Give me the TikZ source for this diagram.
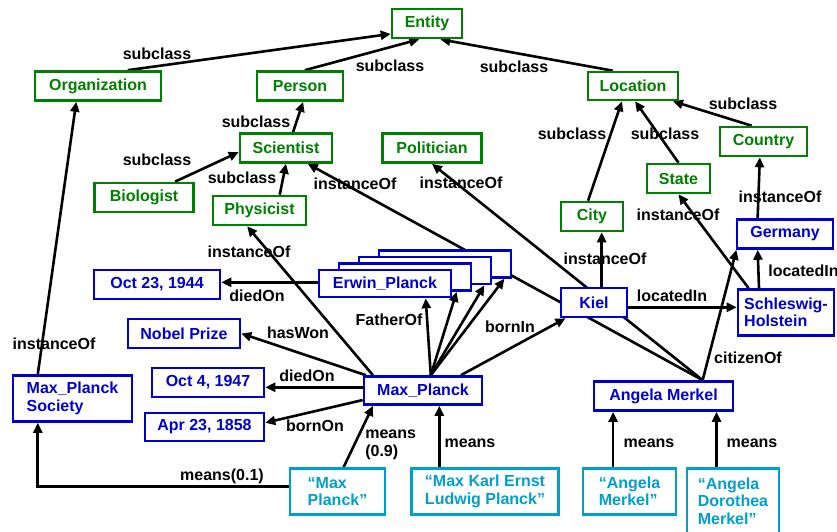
\documentclass[tikz,border=0pt]{standalone}
\usepackage{fontspec}
\setmainfont{Liberation Sans}
\usetikzlibrary{arrows.meta,backgrounds}
\definecolor{clsgreen}{RGB}{0,128,0}
\definecolor{entblue}{RGB}{0,0,204}
\definecolor{wordcyan}{RGB}{0,160,204}

\begin{document}
\begin{tikzpicture}[x=1pt,y=-1pt,
  box/.style={rectangle,draw,fill=white,line width=2.6pt,inner sep=4pt,
    font=\fontsize{16}{17.5}\selectfont\bfseries,minimum height=29pt},
  cls/.style={box,draw=clsgreen,text=clsgreen},
  ent/.style={box,draw=entblue,text=entblue},
  word/.style={box,draw=wordcyan,text=wordcyan,align=left,minimum height=46pt},
  rel/.style={-{Triangle[length=10pt,width=9pt]},line width=2.6pt},
  lbl/.style={font=\fontsize{16}{17.5}\selectfont\bfseries,inner sep=0pt}]

\useasboundingbox (0,0) rectangle (837,532);

% classes
\node[cls,minimum width=70pt] (entity) at (427,23.5) {Entity};
\node[cls,minimum width=126pt] (organization) at (98,86) {Organization};
\node[cls,minimum width=86pt] (person) at (300,86) {Person};
\node[cls,minimum width=92pt] (scientist) at (286,148) {Scientist};
\node[cls,minimum width=99pt] (biologist) at (144,197.5) {Biologist};
\node[cls,minimum width=93pt] (physicist) at (259.5,210.5) {Physicist};
\node[cls,minimum width=99pt] (politician) at (432,148) {Politician};
\node[cls,minimum width=90pt,minimum height=28pt] (location) at (633,86) {Location};
\node[cls,minimum width=87pt] (country) at (763.5,141.5) {Country};
\node[cls,minimum width=63pt] (state) at (678.5,178.5) {State};
\node[cls,minimum width=62pt] (city) at (592,216.5) {City};

% entities
\node[ent,minimum width=96pt] (germany) at (785,234) {Germany};
\node[ent,minimum width=96pt,minimum height=46pt,align=left] (holstein) at (786,312.5) {Schleswig-\\Holstein};
\node[ent,minimum width=66pt] (kiel) at (594,302.5) {Kiel};
\node[ent,minimum width=139pt] (merkel) at (663.5,396) {Angela Merkel};
\node[ent,minimum width=118pt,minimum height=28pt] (maxplanck) at (423,390.5) {Max\_Planck};
\foreach \i/\x/\y in {3/445/264, 2/425/270.5, 1/405/277}
  \node[ent,minimum width=132pt,minimum height=27pt] (erwin\i) at (\x,\y) {};
\node[ent,minimum width=132pt,minimum height=27pt] (erwin) at (385,283.5) {Erwin\_Planck};
\node[ent,minimum width=126pt] (oct23) at (157,284.5) {Oct 23, 1944};
\node[ent,minimum width=112pt] (nobel) at (184,333.5) {Nobel Prize};
\node[ent,minimum width=112pt] (oct4) at (208,382.5) {Oct 4, 1947};
\node[ent,minimum width=119pt,minimum height=28pt] (apr23) at (204.5,427) {Apr 23, 1858};
\node[ent,minimum width=119pt,minimum height=46pt,align=left] (society) at (72.5,398.5) {Max\_Planck\\Society};

% words
\node[word,minimum width=95pt] (wmaxplanck) at (337.5,491.5) {“Max\\Planck”};
\node[word,minimum width=147pt] (wfullname) at (485,491.5) {“Max Karl Ernst\\Ludwig Planck”};
\node[word,minimum width=93pt] (wmerkel) at (629.5,491.5) {“Angela\\Merkel”};
\node[word,minimum width=92pt,minimum height=65pt] (wdorothea) at (733,501) {“Angela\\Dorothea\\Merkel”};

\begin{scope}[on background layer]
% taxonomy
\draw[rel] (organization.28) -- (entity.196) node[lbl] at (157,54) {subclass};
\draw[rel] (person.73) -- (entity.244) node[lbl] at (390,66) {subclass};
\draw[rel] (location.143) -- (entity.310) node[lbl] at (514,67) {subclass};
\draw[rel] (scientist.66) -- (person.281) node[lbl] at (256,122) {subclass};
\draw[rel] (biologist.27) -- (scientist.185) node[lbl] at (157,160) {subclass};
\draw[rel] (physicist.38) -- (scientist.south) node[lbl] at (242,178) {subclass};
\draw[rel] (city.104) -- (location.234) node[lbl] at (572,134) {subclass};
\draw[rel] (state.north) -- (location.278) node[lbl] at (665,134) {subclass};
\draw[rel] (country.127) -- (location.339) node[lbl] at (743,104) {subclass};
% facts
\draw[rel] (germany.150) -- (country.257) node[lbl] at (780,197) {instanceOf};
\draw[rel] (holstein.147) -- (state.south) node[lbl] at (678,215) {instanceOf};
\draw[rel] (holstein.138) -- (germany.210) node[lbl,anchor=west] at (767,271) {locatedIn};
\draw[rel] (kiel.352) -- (kiel.352 -| holstein.west) node[lbl] at (672,296) {locatedIn};
\draw[rel] (kiel.64) -- (kiel.64 |- city.south) node[lbl] at (605,259) {instanceOf};
\draw[rel] (merkel.22) -- (germany.198) node[lbl] at (748,358) {citizenOf};
\draw[rel] (merkel.22) -- (scientist.324) node[lbl] at (355,184) {instanceOf};
\draw[rel] (merkel.22) -- (politician.south) node[lbl] at (461,183) {instanceOf};
\draw[rel] (maxplanck.163) -- (physicist.232) node[lbl] at (249,252) {instanceOf};
\draw[rel] (maxplanck.63) -- (erwin.340) node[lbl] at (389,320) {FatherOf};
\draw[rel] (maxplanck.63) -- (erwin1.344);
\draw[rel] (maxplanck.63) -- (erwin2.346);
\draw[rel] (maxplanck.63) -- (erwin3.346);
\draw[rel] (maxplanck.22) -- (kiel.209) node[lbl] at (510,327) {bornIn};
\draw[rel] (maxplanck.165) -- (nobel.east) node[lbl] at (298,333) {hasWon};
\draw[rel] (maxplanck.177) -- (maxplanck.177 -| oct4.east) node[lbl] at (307,376) {diedOn};
\draw[rel] (maxplanck.189) -- (apr23.4) node[lbl] at (315,426) {bornOn};
\draw[rel] (erwin.179) -- (erwin.179 -| oct23.east) node[lbl] at (257,296) {diedOn};
\draw[rel] (society.145) -- (organization.216) node[lbl] at (54,344) {instanceOf};
% means
\draw[rel] (wmaxplanck.174) -| (society.215) node[lbl] at (222,476) {means(0.1)};
\draw[rel] (wmaxplanck.76) -- (maxplanck.197) node[lbl,anchor=west,align=left] at (364,445) {means\\(0.9)};
\draw[rel] (wfullname.152) -- (wfullname.152 |- maxplanck.south) node[lbl] at (470,443) {means};
\draw[rel] (wmerkel.124) -- (wmerkel.124 |- merkel.south) node[lbl] at (649,443) {means};
\draw[rel] (wdorothea.116) -- (wdorothea.116 |- merkel.south) node[lbl] at (752,443) {means};
\end{scope}
\end{tikzpicture}
\end{document}
